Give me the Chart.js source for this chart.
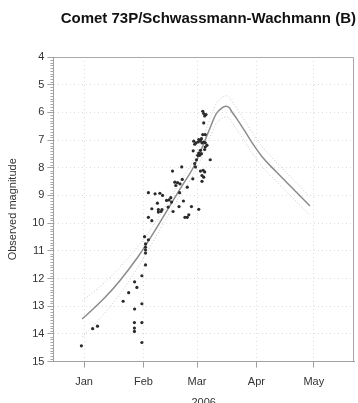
<!DOCTYPE html>
<html lang="en">

<head>
  <meta charset="UTF-8">
  <title>Comet 73P/Schwassmann-Wachmann (B)</title>
  <script src="https://cdn.jsdelivr.net/npm/chart.js"></script>
  <style>
    html, body { margin: 0; padding: 0; background: #fff; overflow: hidden; }
    #chart-container { position: relative; width: 358px; height: 410px; }
  </style>
</head>

<body>
  <div id="chart-container">
    <canvas id="cometChart"></canvas>
  </div>
</body>

</html>
<script>
  // x values are day of year 2006 (1 = 1 Jan)
  const monthDays = [1, 32, 60, 91, 121];
  const monthLabels = ['Jan', 'Feb', 'Mar', 'Apr', 'May'];

  // observed magnitudes
  const obsDays = [
    -0.4, 5.5, 8.0, 21.4, 24.3, 27.4, 28.6, 27.4, 27.3, 27.3, 27.3, 31.2, 31.2, 31.2, 31.2,
    33.1, 32.6, 34.6, 33.1, 33.1, 33.1, 33.1,
    34.6, 36.4, 34.6, 36.4, 38.1, 39.3, 40.6, 42.0, 39.8, 41.2, 39.8, 41.7, 44.1, 45.4, 46.3,
    46.7, 44.9, 47.2, 47.5, 48.4, 49.8, 48.9, 51.1, 50.9, 52.3, 52.9, 52.0, 54.9, 50.6, 53.7,
    54.9, 55.7, 57.1, 60.9,
    63.0, 63.5, 64.0, 64.7, 63.5, 63.0, 64.3, 62.3, 58.3, 58.8, 60.9, 61.8, 62.6, 63.5, 64.3,
    59.5, 60.6, 65.2, 64.3, 64.0, 58.0, 61.8, 60.9, 60.4, 61.4, 62.3, 59.7, 66.9, 58.8, 59.2,
    61.8, 63.2, 64.0, 62.6, 63.5, 62.6, 57.8
  ];
  const obsMags = [
    14.43, 13.81, 13.72, 12.82, 12.51, 12.12, 12.32, 13.10, 13.59, 13.79, 13.91, 11.90, 12.91, 13.59, 14.31,
    11.51, 10.49, 10.60, 10.75, 10.87, 10.97, 11.08,
    8.90, 9.48, 9.79, 9.91, 8.94, 9.28, 8.92, 9.00, 9.51, 9.58, 9.60, 9.51, 9.18, 9.16, 9.08,
    9.24, 9.42, 8.12, 9.58, 8.52, 8.54, 8.64, 8.58, 8.90, 8.42, 9.20, 7.97, 8.70, 9.40, 9.79,
    9.79, 9.70, 9.40, 9.50,
    5.96, 6.04, 6.13, 6.08, 6.38, 6.80, 6.80, 6.95, 7.04, 7.15, 6.98, 7.03, 7.10, 7.07, 7.10,
    7.10, 7.07, 7.19, 7.25, 7.34, 7.39, 7.37, 7.47, 7.55, 7.55, 7.49, 7.71, 7.71, 7.85, 7.97,
    8.12, 8.09, 8.15, 8.28, 8.34, 8.49, 8.40
  ];

  // fitted light curve and its band
  const curveDays  = [0, 6, 12, 20, 29, 33, 38, 43, 48, 53, 58, 62, 66, 70, 73, 75, 77, 78, 81, 85, 89, 94, 101, 110, 119];
  const curveMag   = [13.46, 13.08, 12.68, 12.05, 11.23, 10.82, 10.27, 9.70, 9.12, 8.56, 8.00, 7.38, 6.70, 6.05, 5.84, 5.78, 5.84, 5.96, 6.25, 6.68, 7.12, 7.60, 8.12, 8.75, 9.38];
  const curveUpper = [12.81, 12.48, 12.13, 11.57, 10.85, 10.50, 9.99, 9.45, 8.87, 8.31, 7.73, 7.08, 6.37, 5.69, 5.46, 5.40, 5.46, 5.58, 5.87, 6.30, 6.75, 7.24, 7.77, 8.41, 9.05];
  const curveLower = [14.11, 13.68, 13.23, 12.53, 11.61, 11.14, 10.55, 9.95, 9.37, 8.81, 8.27, 7.68, 7.03, 6.41, 6.22, 6.16, 6.22, 6.34, 6.63, 7.06, 7.49, 7.96, 8.47, 9.09, 9.71];

  const toPoints = (xs, ys) => xs.map((x, i) => ({ x: x, y: ys[i] }));

  const fontFamily = '"Liberation Sans", Arial, sans-serif';

  // top/right frame and the small minor ticks on the magnitude axis
  const frameAndMinor = {
    id: 'frameAndMinor',
    afterDraw(chart) {
      const ctx = chart.ctx;
      const a = chart.chartArea;
      const y = chart.scales.y;
      ctx.save();
      ctx.strokeStyle = '#a8a8a8';
      ctx.lineWidth = 1;
      ctx.beginPath();
      ctx.moveTo(a.left, Math.round(a.top) + 0.5);
      ctx.lineTo(Math.round(a.right) - 0.5, Math.round(a.top) + 0.5);
      ctx.lineTo(Math.round(a.right) - 0.5, a.bottom);
      ctx.stroke();
      ctx.beginPath();
      for (let i = 0; i <= 110; i++) {
        if (i % 10 === 0) continue;
        const py = Math.round(y.getPixelForValue(4 + i / 10)) + 0.5;
        ctx.moveTo(a.left - 3, py);
        ctx.lineTo(a.left, py);
      }
      ctx.stroke();
      ctx.restore();
    }
  };

  const ctx = document.getElementById('cometChart').getContext('2d');
  const cometChart = new Chart(ctx, {
    type: 'scatter',
    data: {
      datasets: [
        {
          label: 'Observed',
          data: toPoints(obsDays, obsMags),
          pointStyle: 'circle',
          pointRadius: 1.6,
          pointBorderWidth: 0,
          backgroundColor: '#2a2a2a',
          borderColor: '#2a2a2a'
        },
        {
          label: 'Fit',
          data: toPoints(curveDays, curveMag),
          showLine: true,
          pointRadius: 0,
          borderColor: '#8c8c8c',
          borderWidth: 1.5,
          cubicInterpolationMode: 'monotone'
        },
        {
          label: 'Upper',
          data: toPoints(curveDays, curveUpper),
          showLine: true,
          pointRadius: 0,
          borderColor: '#c8c8c8',
          borderWidth: 1,
          borderDash: [1, 2],
          cubicInterpolationMode: 'monotone'
        },
        {
          label: 'Lower',
          data: toPoints(curveDays, curveLower),
          showLine: true,
          pointRadius: 0,
          borderColor: '#c8c8c8',
          borderWidth: 1,
          borderDash: [1, 2],
          cubicInterpolationMode: 'monotone'
        }
      ]
    },
    options: {
      responsive: true,
      maintainAspectRatio: false,
      animation: false,
      layout: { padding: { left: 0, right: 2, top: 0, bottom: 0 } },
      scales: {
        x: {
          type: 'linear',
          min: -15,
          max: 142,
          afterBuildTicks: (scale) => { scale.ticks = monthDays.map(v => ({ value: v })); },
          ticks: {
            autoSkip: false,
            maxRotation: 0,
            padding: 8,
            color: '#333',
            font: { size: 11, family: fontFamily },
            callback: (value, index) => monthLabels[index]
          },
          grid: {
            color: '#dddddd',
            lineWidth: 1,
            tickLength: 6,
            tickColor: '#a0a0a0',
            tickBorderDash: []
          },
          border: { display: true, color: '#a0a0a0', width: 1, dash: [1, 3] },
          title: {
            display: true,
            text: '2006',
            color: '#333',
            font: { size: 11, family: fontFamily },
            padding: { top: 0, bottom: 0 }
          }
        },
        y: {
          type: 'linear',
          reverse: true,
          min: 4,
          max: 15,
          ticks: {
            stepSize: 1,
            padding: 3,
            color: '#333',
            font: { size: 11, family: fontFamily }
          },
          grid: {
            color: '#dddddd',
            lineWidth: 1,
            tickLength: 6,
            tickColor: '#a0a0a0',
            tickBorderDash: []
          },
          border: { display: true, color: '#a0a0a0', width: 1, dash: [1, 3] },
          title: {
            display: true,
            text: 'Observed magnitude',
            color: '#333',
            font: { size: 11, family: fontFamily },
            padding: { top: 6, bottom: 10 }
          }
        }
      },
      plugins: {
        legend: { display: false },
        tooltip: { enabled: false },
        title: {
          display: true,
          text: 'Comet 73P/Schwassmann-Wachmann (B)',
          align: 'end',
          color: '#111',
          font: { size: 15, weight: 'bold', family: fontFamily },
          padding: { top: 10, bottom: 29 }
        }
      }
    },
    plugins: [frameAndMinor]
  });
</script>
